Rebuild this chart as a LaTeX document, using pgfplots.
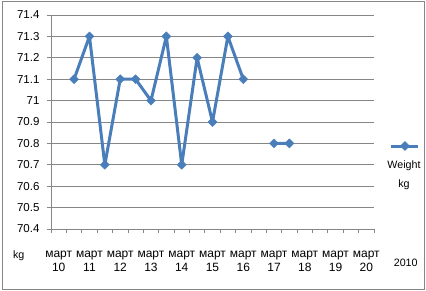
\documentclass[border=0pt]{standalone}
\usepackage{pgfplots}
\pgfplotsset{compat=1.18}
\usepackage{fontspec}
\setmainfont{Liberation Sans}
\definecolor{ser}{HTML}{4A7EBB}
\definecolor{grd}{HTML}{868686}
\begin{document}
\begin{tikzpicture}[x=1pt,y=1pt]
\useasboundingbox (0,0) rectangle (426,291);
\draw[grd, line width=0.8pt] (2,2) rectangle (424.5,290);
\begin{axis}[
  at={(51pt,62pt)}, anchor=south west,
  scale only axis, width=323pt, height=214pt,
  xmin=-0.5, xmax=20.5, ymin=70.4, ymax=71.4,
  axis lines*=left,
  axis line style={grd, line width=0.8pt},
  tick align=outside, major tick length=4pt,
  tick style={grd, line width=0.8pt},
  xtick={-0.5,0.5,...,20.5}, xticklabels={},
  extra x ticks={0,2,...,20},
  extra x tick labels={{март\\10},{март\\11},{март\\12},{март\\13},{март\\14},{март\\15},{март\\16},{март\\17},{март\\18},{март\\19},{март\\20}},
  extra x tick style={major tick length=0pt, grid=none,
    xticklabel style={font=\fontsize{12}{13.4}\selectfont, align=center, anchor=north, yshift=-19pt}},
  ytick={70.4,70.5,70.6,70.7,70.8,70.9,71,71.1,71.2,71.3,71.4},
  ymajorgrids, grid style={grd, line width=0.8pt},
  /pgf/number format/fixed, /pgf/number format/precision=1,
  /pgf/number format/assume math mode=true,
  yticklabel style={font=\fontsize{11.5}{13}\selectfont, xshift=-4pt},
  unbounded coords=jump,
  legend image code/.code={
    \draw[overlay, mark repeat=2, mark phase=2, #1, xshift=4pt, yshift=29pt] plot coordinates {(0pt,0pt) (13.5pt,0pt) (27pt,0pt)};
  },
  legend style={draw=none, fill=none, at={(1.0929,0.2523)}, anchor=center,
    nodes={align=center, font=\fontsize{10.7}{18.4}\selectfont, inner sep=0pt}},
]
\addplot[ser, line width=3pt, line join=round, mark=square*, mark size=3.2pt, mark options={rotate=45, solid, line width=0.4pt}]
  coordinates {
  (1,71.1) (2,71.3) (3,70.7) (4,71.1) (5,71.1) (6,71.0) (7,71.3) (8,70.7) (9,71.2) (10,70.9) (11,71.3) (12,71.1)
  (13,nan)
  (14,70.8) (15,70.8)
  };
\addlegendentry{Weight\\kg}
\end{axis}
\node[font=\fontsize{10.7}{13}\selectfont] at (18.7,35) {kg};
\node[font=\fontsize{10.7}{13}\selectfont] at (405.7,27.7) {2010};
\end{tikzpicture}
\end{document}
